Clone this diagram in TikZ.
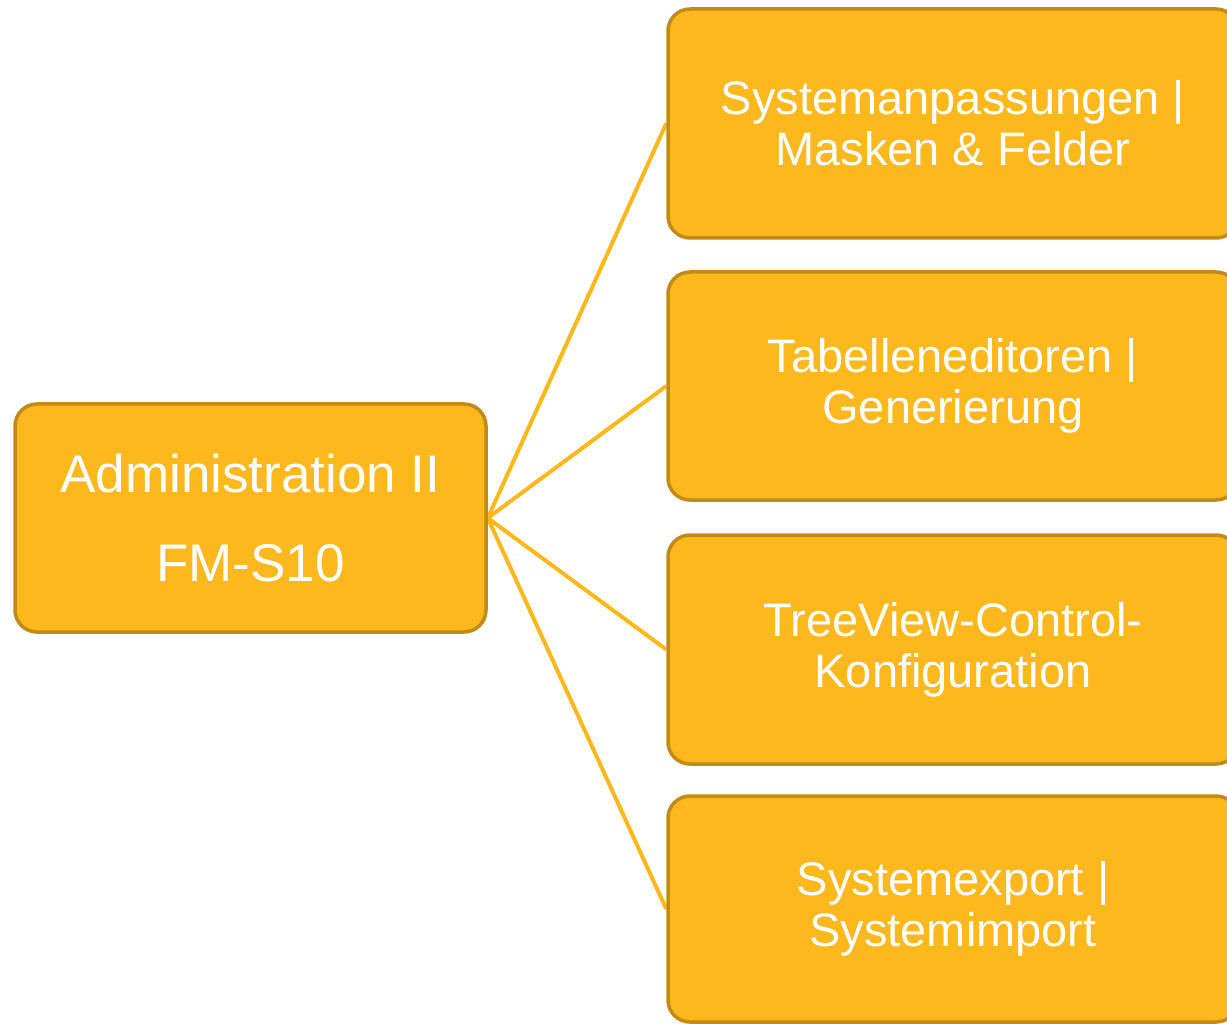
\documentclass[tikz,border=0pt]{standalone}
\usepackage{fontspec}
\setmainfont{Liberation Sans}
\usetikzlibrary{backgrounds}
\definecolor{boxfill}{RGB}{253,184,30}
\definecolor{boxedge}{RGB}{194,138,22}
\begin{document}
\begin{tikzpicture}[x=1pt,y=-1pt,
  box/.style={draw=boxedge, fill=boxfill, line width=3.5pt, rounded corners=22pt,
    text=white, align=center, inner sep=0pt},
  subbox/.style={box, minimum width=570pt, font=\fontsize{47}{51}\selectfont},
  conn/.style={draw=boxfill, line width=4pt}]
\useasboundingbox (0,0) rectangle (1227,1024);
\node[box, minimum width=471pt, minimum height=228pt, font=\fontsize{53}{89}\selectfont]
  (root) at (250.5,518) {Administration II\\FM-S10};
\node[subbox, minimum height=229pt] (b1) at (953,123.5) {Systemanpassungen |\\Masken \& Felder};
\node[subbox, minimum height=228pt] (b2) at (953,386) {Tabelleneditoren |\\Generierung};
\node[subbox, minimum height=229pt] (b3) at (953,649.5) {TreeView-Control-\\Konfiguration};
\node[subbox, minimum height=226pt] (b4) at (953,909) {Systemexport |\\Systemimport};
\begin{scope}[on background layer]
\draw[conn] (root.east) -- (b1.west);
\draw[conn] (root.east) -- (b2.west);
\draw[conn] (root.east) -- (b3.west);
\draw[conn] (root.east) -- (b4.west);
\end{scope}
\end{tikzpicture}
\end{document}
